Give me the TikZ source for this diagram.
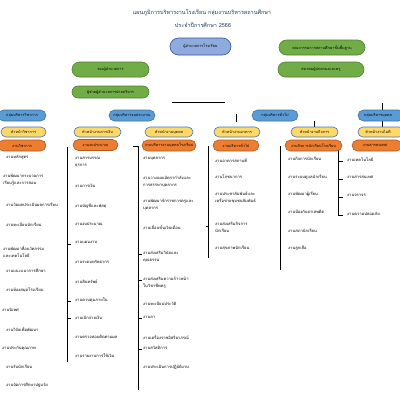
\documentclass[tikz,border=0pt]{standalone}
\usepackage{fontspec}
\newfontfamily\thaifont[Script=Thai]{Loma}
\usetikzlibrary{shapes.misc}
\definecolor{navy}{HTML}{1F3864}
\definecolor{topfill}{HTML}{8FAADC}
\definecolor{topdraw}{HTML}{2F5597}
\definecolor{grfill}{HTML}{70AD47}
\definecolor{grdraw}{HTML}{507E32}
\definecolor{blfill}{HTML}{5B9BD5}
\definecolor{bldraw}{HTML}{41719C}
\definecolor{yefill}{HTML}{FFD966}
\definecolor{yedraw}{HTML}{4472C4}
\definecolor{orfill}{HTML}{ED7D31}
\definecolor{ordraw}{HTML}{AE5A21}
\tikzset{
  pill/.style={rounded rectangle, draw, line width=0.6pt, inner sep=0pt, align=center,
    font=\thaifont\fontsize{3.8}{4.5}\selectfont},
  topbox/.style={pill, fill=topfill, draw=topdraw, minimum height=17pt},
  grbox/.style={pill, fill=grfill, draw=grdraw, minimum height=15pt},
  blbox/.style={pill, fill=blfill, draw=bldraw, minimum height=11pt},
  yebox/.style={pill, fill=yefill, draw=yedraw, minimum height=10pt},
  orbox/.style={pill, fill=orfill, draw=ordraw, minimum height=11pt},
  item/.style={anchor=north west, align=left, inner sep=0pt,
    font=\thaifont\fontsize{4.1}{7}\selectfont},
  ttl/.style={inner sep=0pt, text=navy, font=\thaifont\fontsize{5.5}{6.5}\selectfont},
  ln/.style={line width=0.6pt, black}
}
\begin{document}
\begin{tikzpicture}[x=1pt,y=-1pt]
\useasboundingbox (0,0) rectangle (400,400);
% connector fragments
\coordinate (h1) at (172,102); \coordinate (h2) at (225,102);
\draw[ln] (h1) -- (h2);
\coordinate (v1a) at (236,114); \coordinate (v1b) at (236,122);
\draw[ln] (v1a) -- (v1b);
\coordinate (v2a) at (314,121); \coordinate (v2b) at (314,127);
\draw[ln] (v2a) -- (v2b);
\coordinate (v3a) at (382,103); \coordinate (v3b) at (382,127);
\draw[ln] (v3a) -- (v3b);
% column lines
\coordinate (c2t) at (67,147); \coordinate (c2b) at (67,362);
\draw[ln] (c2t) -- (c2b);
\foreach \yy in {244,301,318} \draw[ln] (67,\yy) -- (71,\yy);
\coordinate (c3t) at (138,146); \coordinate (c3b) at (138,390);
\draw[ln] (133,146) -- (c3t) -- (c3b);
\foreach \yy in {254,280,318,349} \draw[ln] (138,\yy) -- (142,\yy);
\coordinate (c4t) at (208,146); \coordinate (c4b) at (208,258);
\draw[ln] (c4t) -- (c4b);
\draw[ln] (206,226) -- (209,226);
\coordinate (c5t) at (280,146); \coordinate (c5b) at (280,270);
\draw[ln] (c5t) -- (c5b);
\coordinate (c6t) at (338,146); \coordinate (c6b) at (338,216);
\draw[ln] (c6t) -- (c6b);
\foreach \yy in {161,179,197,215} \draw[ln] (338,\yy) -- (343,\yy);
% title
\node[ttl] (t1) at (202,13) {แผนภูมิการบริหารงานโรงเรียน กลุ่มงานบริหารสถานศึกษา};
\node[ttl] (t2) at (203,25) {ประจำปีการศึกษา 2566};
% top
\node[topbox, minimum width=61pt] (top) at (200.5,46.5) {ผู้อำนวยการโรงเรียน};
\node[grbox, minimum width=86pt] (g1) at (322,47.5) {คณะกรรมการสถานศึกษาขั้นพื้นฐาน};
\node[grbox, minimum width=86pt] (g2) at (321,69.5) {สมาคมผู้ปกครองและครู};
\node[grbox, minimum width=77pt] (g3) at (110.5,69.5) {รองผู้อำนวยการ};
\node[grbox, minimum width=77pt, minimum height=12pt] (g4) at (110.5,92) {ผู้ช่วยผู้อำนวยการฝ่ายบริหาร};
% level 2
\node[blbox, minimum width=48pt] (b1) at (22,115.5) {กลุ่มบริหารวิชาการ};
\node[blbox, minimum width=46pt] (b2) at (132,115.5) {กลุ่มบริหารงบประมาณ};
\node[blbox, minimum width=46pt] (b3) at (275,115.5) {กลุ่มบริหารทั่วไป};
\node[blbox, minimum width=46pt] (b4) at (381,115.5) {\hspace*{-6pt}กลุ่มบริหารบุคคล};
% yellow
\node[yebox, minimum width=45pt] (y1) at (23.5,132) {หัวหน้าวิชาการ};
\node[yebox, minimum width=47pt] (y2) at (97.5,132) {หัวหน้างานการเงิน};
\node[yebox, minimum width=48pt] (y3) at (169,132) {หัวหน้างานบุคคล};
\node[yebox, minimum width=46pt] (y4) at (237,132) {หัวหน้างานอาคาร};
\node[yebox, minimum width=47pt] (y5) at (314.5,132) {หัวหน้างานกิจการ};
\node[yebox, minimum width=46pt] (y6) at (381,132) {\hspace*{-6pt}หัวหน้างานไอที};
% orange
\node[orbox, minimum width=48pt] (o1) at (22,145.5) {งานวิชาการ};
\node[orbox, minimum width=45pt] (o2) at (95.5,145) {งานงบประมาณ};
\node[orbox, minimum width=54pt] (o3) at (169,145.5) {งานบริหารงานบุคคลโรงเรียน};
\node[orbox, minimum width=46pt] (o4) at (236,145.5) {งานบริหารทั่วไป};
\node[orbox, minimum width=57pt] (o5) at (313.5,145.5) {งานกิจการนักเรียนโรงเรียน};
\node[orbox, minimum width=50pt] (o6) at (377,145.5) {\hspace*{-4pt}งานสารสนเทศ};
% column 1
\node[item] (a1) at (6,155) {งานหลักสูตร};
\node[item] (a2) at (3,174) {งานพัฒนากระบวนการ\\เรียนรู้และการสอน};
\node[item] (a3) at (6,203) {งานวัดผลประเมินผลการเรียน};
\node[item] (a4) at (6,223) {งานทะเบียนนักเรียน};
\node[item] (a5) at (3,246) {งานพัฒนาสื่อนวัตกรรม\\และเทคโนโลยี};
\node[item] (a6) at (6,269) {งานแนะแนวการศึกษา};
\node[item] (a7) at (6,288) {งานห้องสมุดโรงเรียน};
\node[item] (a8) at (2,308) {งานนิเทศ};
\node[item] (a9) at (6,327) {งานวิจัยเพื่อพัฒนา};
\node[item] (a10) at (2,346) {งานประกันคุณภาพ};
\node[item] (a11) at (6,365) {งานรับนักเรียน};
\node[item] (a12) at (6,383) {งานจัดการศึกษาปฐมวัย};
% column 2
\node[item] (d1) at (75,157) {งานสารบรรณ\\ธุรการ};
\node[item] (d2) at (75,184) {งานการเงิน};
\node[item] (d3) at (75,204) {งานบัญชีและพัสดุ};
\node[item] (d4) at (75,222) {งานงบประมาณ};
\node[item] (d5) at (75,241) {งานแผนงาน};
\node[item] (d6) at (75,260) {งานระดมทรัพยากร};
\node[item] (d7) at (75,280) {งานสินทรัพย์};
\node[item] (d8) at (75,298) {งานควบคุมภายใน};
\node[item] (d9) at (75,316) {งานเบิกจ่ายเงิน};
\node[item] (d10) at (75,335) {งานตรวจสอบติดตามผล};
\node[item] (d11) at (75,354) {งานรายงานการใช้เงิน};
% column 3
\node[item] (e1) at (143,157) {งานบุคลากร};
\node[item] (e2) at (143,176) {งานวางแผนอัตรากำลังและ\\การสรรหาบุคลากร};
\node[item] (e3) at (143,199) {งานพัฒนาข้าราชการครูและ\\บุคลากร};
\node[item] (e4) at (143,225) {งานเลื่อนขั้นเงินเดือน};
\node[item] (e5) at (143,251) {งานส่งเสริมวินัยและ\\คุณธรรม};
\node[item] (e6) at (143,277) {งานส่งเสริมความก้าวหน้า\\ในวิชาชีพครู};
\node[item] (e7) at (143,302) {งานทะเบียนประวัติ};
\node[item] (e8) at (143,316) {งานลา};
\node[item] (e9) at (143,335) {งานเครื่องราชอิสริยาภรณ์};
\node[item] (e10) at (143,346) {งานสวัสดิการ};
\node[item] (e11) at (143,365) {งานประเมินการปฏิบัติงาน};
% column 4
\node[item] (f1) at (215,158) {งานอาคารสถานที่};
\node[item] (f2) at (215,175) {งานโภชนาการ};
\node[item] (f3) at (215,192) {งานประชาสัมพันธ์และ\\เครือข่ายชุมชนสัมพันธ์};
\node[item] (f4) at (215,222) {งานส่งเสริมกิจการ\\นักเรียน};
\node[item] (f5) at (215,246) {งานสุขภาพนักเรียน};
% column 5
\node[item] (k1) at (288,157) {งานกิจการนักเรียน};
\node[item] (k2) at (288,175) {งานระบบดูแลนักเรียน};
\node[item] (k3) at (288,192) {งานพัฒนาผู้เรียน};
\node[item] (k4) at (288,210) {งานป้องกันยาเสพติด};
\node[item] (k5) at (288,229) {งานสภานักเรียน};
\node[item] (k6) at (288,246) {งานลูกเสือ};
% column 6
\node[item] (m1) at (347,158) {งานเทคโนโลยี};
\node[item] (m2) at (347,176) {งานสารสนเทศ};
\node[item] (m3) at (347,194) {งานจราจร};
\node[item] (m4) at (347,212) {งานความปลอดภัย};
\end{tikzpicture}
\end{document}
